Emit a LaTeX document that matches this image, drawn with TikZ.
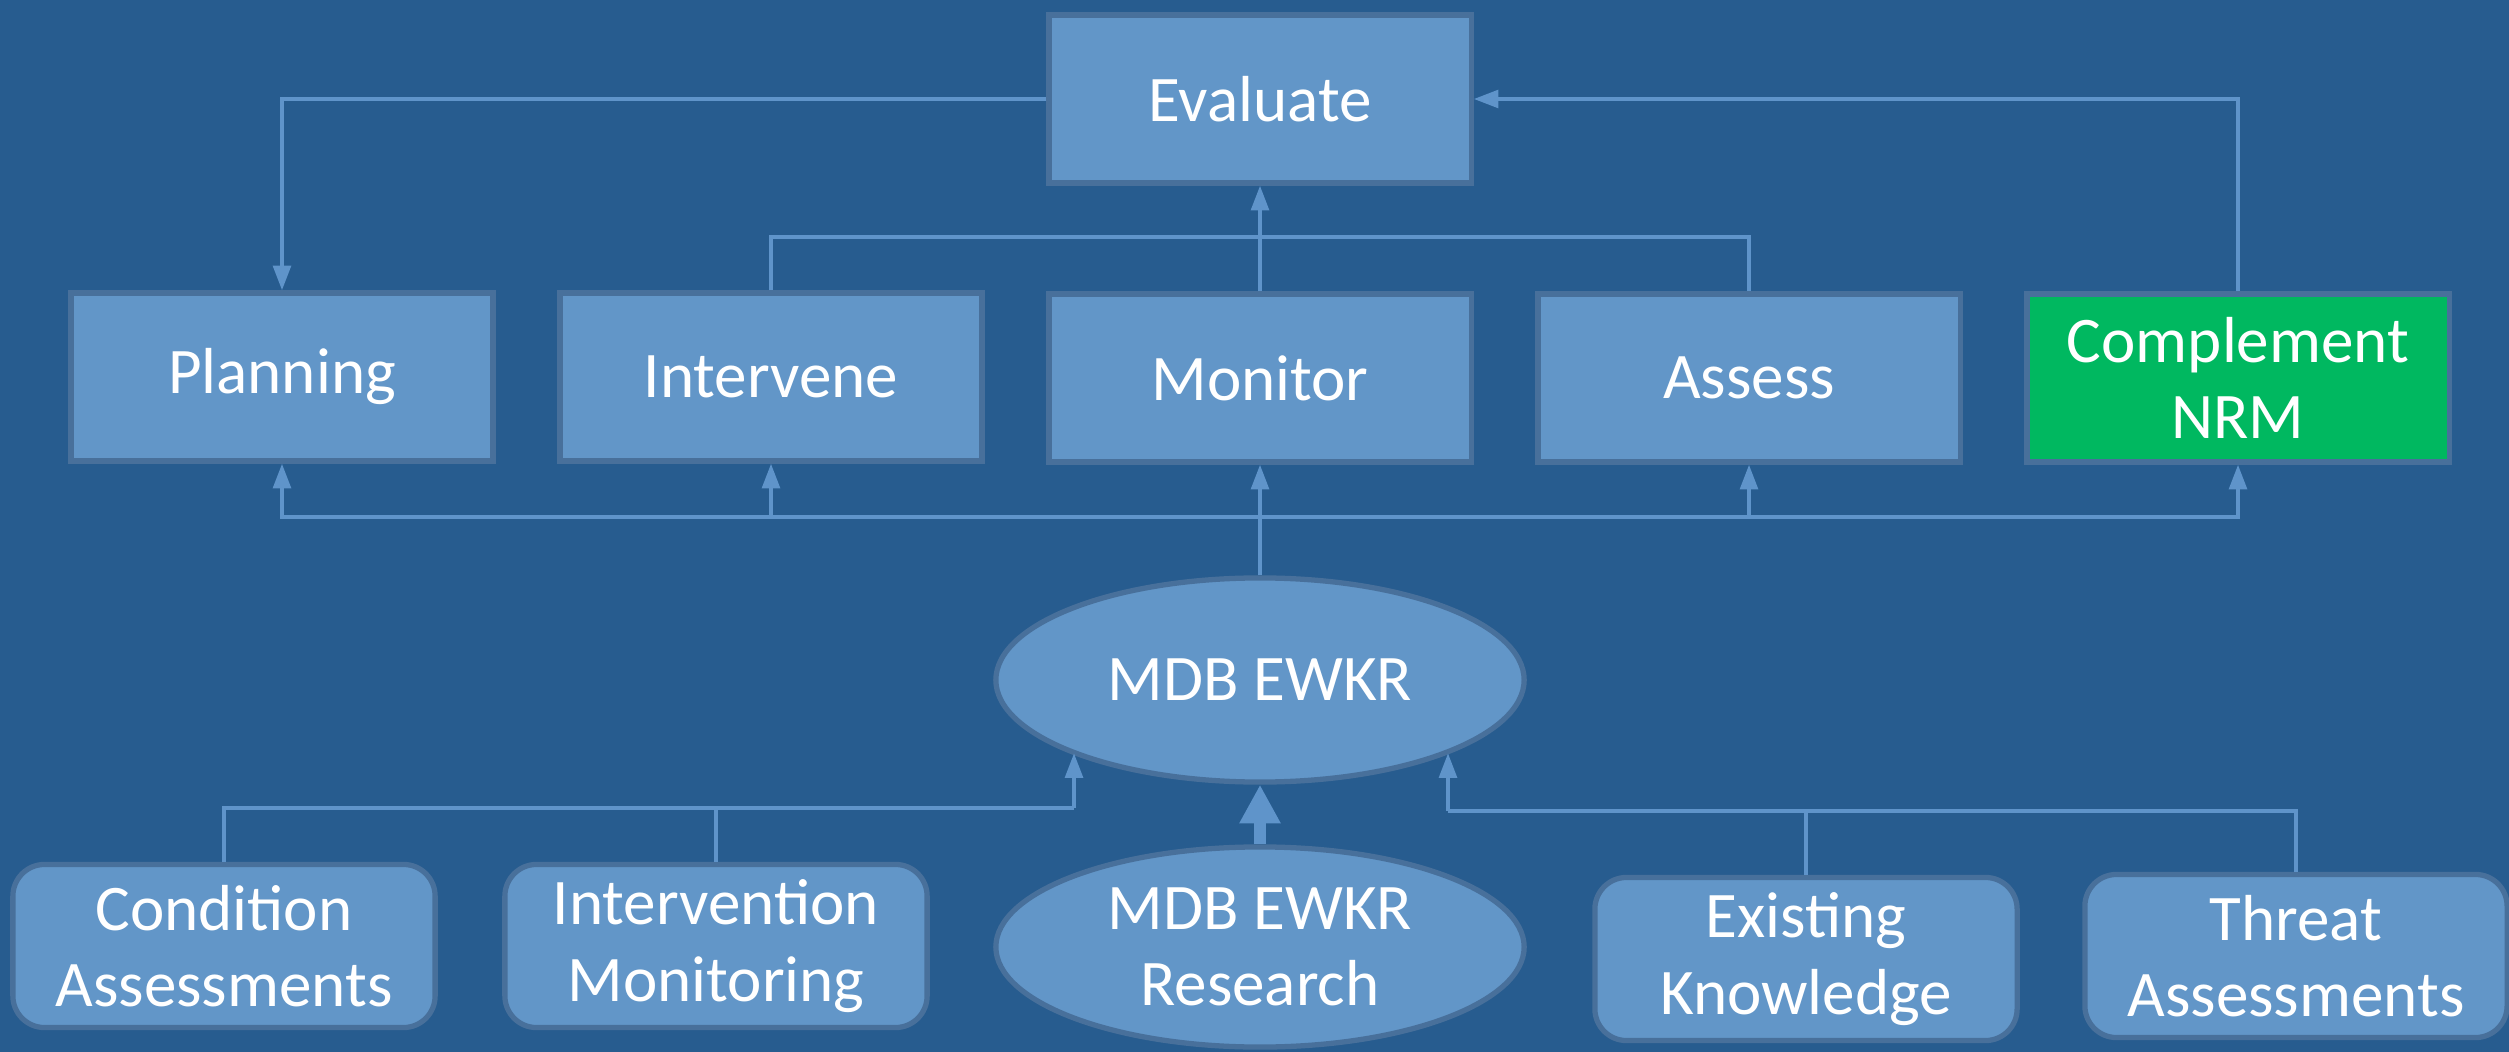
\documentclass[tikz,border=0pt]{standalone}
\usepackage{fontspec}
\setmainfont{Carlito}
\usepackage{xcolor}
\usetikzlibrary{positioning, calc, shapes.geometric, arrows.meta}

\definecolor{bgblue}{RGB}{39,92,143}
\definecolor{boxblue}{RGB}{98,150,200}
\definecolor{edgeblue}{RGB}{72,112,155}
\definecolor{lineblue}{RGB}{95,148,202}
\definecolor{nrmgreen}{RGB}{0,184,96}

\tikzset{
    stage/.style={rectangle,draw=edgeblue,line width=1.5pt,fill=boxblue,text=white,
        minimum width=4.22cm,minimum height=1.68cm,align=center,
        font=\fontsize{18.5}{21.8}\selectfont},
    source/.style={stage,rounded corners=9pt,minimum height=1.63cm},
    hub/.style={ellipse,draw=edgeblue,line width=1.5pt,fill=boxblue,text=white,
        minimum width=5.28cm,minimum height=2.04cm,inner sep=0pt,align=center,
        font=\fontsize{18.5}{21.8}\selectfont},
    link/.style={draw=lineblue,line width=1.1pt},
    linkto/.style={link,-{Triangle[width=5pt,length=7pt]}},
    bigarrow/.style={draw=lineblue,line width=3.4pt,-{Triangle[width=11pt,length=11pt]}}
}

\begin{document}
\begin{tikzpicture}[x=0.01cm,y=-0.01cm]
    \fill[bgblue] (0,0) rectangle (2509,1052);
    \useasboundingbox (0,0) rectangle (2509,1052);

    % top row
    \node[stage] (evaluate) at (1260,99) {Evaluate};
    \node[stage] (planning) at (282,377) {Planning};
    \node[stage] (intervene) at (771,377) {Intervene};
    \node[stage] (monitor) at (1260,378) {Monitor};
    \node[stage] (assess) at (1749,378) {Assess};
    \node[stage,fill=nrmgreen] (complement) at (2238,378) {Complement\\NRM};

    % knowledge base
    \node[hub] (ewkr) at (1260,680) {MDB EWKR};
    \node[hub,minimum height=2cm] (research) at (1260,947) {MDB EWKR\\Research};

    % inputs
    \node[source] (condition) at (224,946) {Condition\\Assessments};
    \node[source] (intervention) at (716,946) {Intervention\\Monitoring};
    \node[source] (existing) at (1806,959) {Existing\\Knowledge};
    \node[source] (threat) at (2296,956) {Threat\\Assessments};

    \coordinate (topbus) at (1260,237);
    \coordinate (midbus) at (1260,517);
    \coordinate (leftbus) at (1074,808);
    \coordinate (rightbus) at (1448,811);

    \draw[linkto] (evaluate.west) -| (planning.north);
    \draw[linkto] (complement.north) |- (evaluate.east);
    \draw[link] (intervene.north) |- (topbus) -| (assess.north);
    \draw[linkto] (monitor.north) -- (evaluate.south);

    \draw[link] (ewkr.north) -- (midbus);
    \foreach \n in {planning, intervene, assess, complement}
        \draw[linkto] (midbus) -| (\n.south);
    \draw[linkto] (midbus) -- (monitor.south);

    \draw[link] (condition.north) |- (leftbus);
    \draw[link] (intervention.north) -- (intervention.north |- leftbus);
    \draw[linkto] (leftbus) -- (leftbus |- ewkr.201.5);
    \draw[link] (threat.north) |- (rightbus);
    \draw[link] (existing.north) -- (existing.north |- rightbus);
    \draw[linkto] (rightbus) -- (rightbus |- ewkr.339);

    \draw[bigarrow] (research.north) -- (ewkr.south);
\end{tikzpicture}
\end{document}
